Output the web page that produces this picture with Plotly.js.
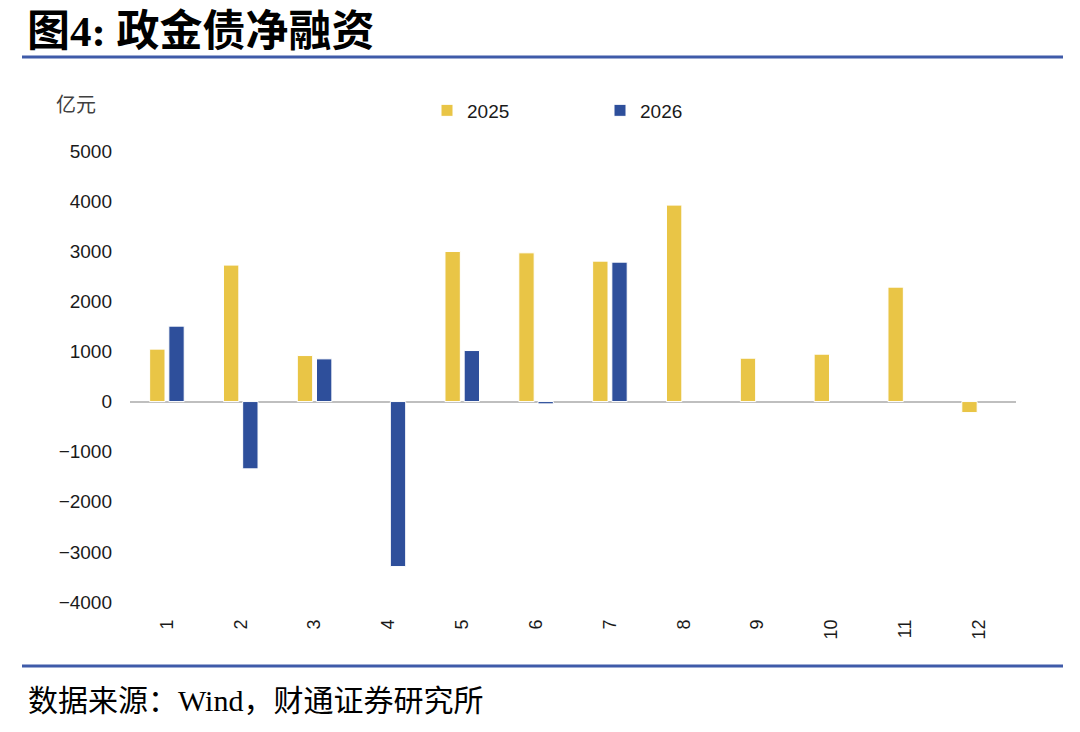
<!DOCTYPE html>
<html>
<head>
<meta charset="utf-8">
<script src="https://cdn.plot.ly/plotly-3.0.1.min.js"></script>
<style>
  html, body { margin: 0; padding: 0; background: #fff; }
  #chart { width: 1080px; height: 732px; }
</style>
</head>
<body>
<div id="chart"></div>
<script>
var months = ['1', '2', '3', '4', '5', '6', '7', '8', '9', '10', '11', '12'];
var net2025 = [1046, 2723, 918, null, 2994, 2968, 2802, 3920, 865, 945, 2283, -220];
var net2026 = [1505, -1343, 852, -3293, 1018, -46, 2782, null, null, null, null, null];
var yTicks = [5000, 4000, 3000, 2000, 1000, 0, -1000, -2000, -3000, -4000];

var sans = 'Liberation Sans, Arial, sans-serif';
var serifCjk = 'Liberation Serif, Noto Sans CJK SC, serif';
var lineBlue = '#3f5ba9';

var data = [
  {
    x: months,
    y: net2025,
    name: '2025',
    type: 'bar',
    marker: {
      color: '#e9c546',
      line: { color: '#ffffff', width: 1 }
    },
    hoverinfo: 'x+y+name'
  },
  {
    x: months,
    y: net2026,
    name: '2026',
    type: 'bar',
    marker: {
      color: '#2e4f9b',
      line: { color: '#ffffff', width: 1 }
    },
    hoverinfo: 'x+y+name'
  }
];

var layout = {
  width: 1080,
  height: 732,
  paper_bgcolor: '#ffffff',
  plot_bgcolor: '#ffffff',
  barmode: 'group',
  bargap: 0.48,
  bargroupgap: 0.2,
  margin: { l: 130, r: 64, t: 151, b: 130, pad: 0 },
  title: {
    text: '<b>图4: 政金债净融资</b>',
    font: { family: serifCjk, size: 43, color: '#000000' },
    xref: 'container',
    yref: 'container',
    x: 27 / 1080,
    xanchor: 'left',
    y: 1 - 31 / 732,
    yanchor: 'middle'
  },
  showlegend: true,
  legend: {
    orientation: 'h',
    xref: 'paper',
    yref: 'paper',
    x: (427 - 130) / 886,
    xanchor: 'left',
    y: 1.0898,
    yanchor: 'middle',
    entrywidth: 128,
    entrywidthmode: 'pixels',
    itemwidth: 30,
    font: { family: sans, size: 19, color: '#1a1a1a' },
    bgcolor: 'rgba(0,0,0,0)'
  },
  xaxis: {
    type: 'category',
    showgrid: false,
    showline: false,
    zeroline: false,
    ticks: '',
    tickangle: -90,
    ticklabelstandoff: 13,
    tickfont: { family: sans, size: 18, color: '#1a1a1a' }
  },
  yaxis: {
    range: [-4000, 5000],
    tickvals: yTicks,
    ticktext: yTicks.map(function (v) { return v < 0 ? '\u2212' + Math.abs(v) : String(v); }),
    showgrid: false,
    showline: false,
    zeroline: true,
    zerolinecolor: '#bfbfbf',
    zerolinewidth: 2,
    ticks: '',
    ticklabelstandoff: 17,
    tickfont: { family: sans, size: 19, color: '#1a1a1a' }
  },
  shapes: [
    {
      type: 'line', xref: 'paper', yref: 'paper',
      x0: (22 - 130) / 886, x1: (1063 - 130) / 886,
      y0: (602 - 57) / 451, y1: (602 - 57) / 451,
      line: { color: lineBlue, width: 3 }
    },
    {
      type: 'line', xref: 'paper', yref: 'paper',
      x0: (22 - 130) / 886, x1: (1063 - 130) / 886,
      y0: (602 - 666) / 451, y1: (602 - 666) / 451,
      line: { color: lineBlue, width: 3 }
    }
  ],
  annotations: [
    {
      text: '亿元',
      xref: 'paper', yref: 'paper',
      x: (54 - 130) / 886, xanchor: 'left',
      y: (602 - 103) / 451, yanchor: 'middle',
      showarrow: false,
      font: { family: 'Noto Sans CJK SC, sans-serif', size: 20, color: '#404040' }
    },
    {
      text: '数据来源：Wind，财通证券研究所',
      xref: 'paper', yref: 'paper',
      x: (26 - 130) / 886, xanchor: 'left',
      y: (602 - 700) / 451, yanchor: 'middle',
      showarrow: false,
      font: { family: serifCjk, size: 30, color: '#000000' }
    }
  ]
};

Plotly.newPlot('chart', data, layout, { displayModeBar: false, staticPlot: true });
</script>
</body>
</html>
